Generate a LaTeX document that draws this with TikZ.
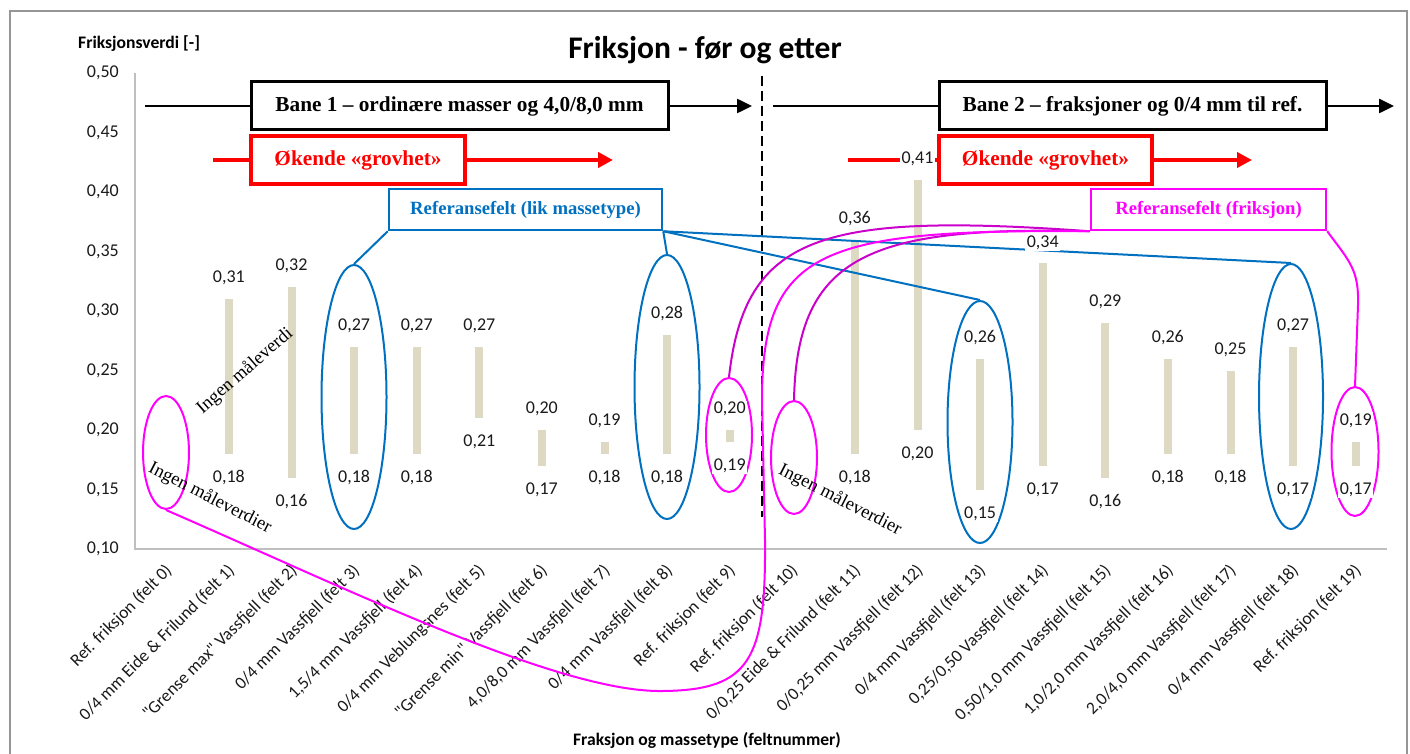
\documentclass[tikz,border=0pt]{standalone}
\usepackage{fontspec}
\setmainfont{Liberation Serif}
\newfontfamily\calibri{Carlito}
\usetikzlibrary{arrows.meta,shapes.geometric}
\definecolor{xlblue}{HTML}{0070C0}
\definecolor{xlmag}{HTML}{FF00FF}
\definecolor{xlmagd}{HTML}{CC00CC}
\definecolor{xlred}{HTML}{FF0000}
\definecolor{barcol}{HTML}{DDD9C3}
\definecolor{framegray}{HTML}{969696}
\definecolor{axisgray}{HTML}{BFBFBF}
\definecolor{lbltext}{HTML}{1A1A1A}
\begin{document}
\begin{tikzpicture}[x=1pt,y=-1pt,
  lbl/.style={font=\calibri\fontsize{18}{21}\selectfont, text=lbltext, inner sep=1.5pt, fill=white},
  xlbl/.style={font=\calibri\fontsize{17.5}{20}\selectfont, text=lbltext, inner sep=0pt, anchor=east, rotate=45},
  tick/.style={font=\calibri\fontsize{18}{21}\selectfont, text=lbltext, anchor=east, inner sep=0pt},
  blackbox/.style={draw=black, line width=3pt, minimum height=48pt, inner sep=0pt, font=\bfseries\fontsize{21.3}{25}\selectfont},
  redbox/.style={draw=xlred, line width=4.5pt, text=xlred, minimum height=48pt, inner sep=0pt, font=\bfseries\fontsize{21.3}{25}\selectfont},
  refbox/.style={line width=2.5pt, minimum height=41pt, inner sep=0pt, font=\bfseries\fontsize{18.7}{22}\selectfont},
  ringb/.style={ellipse, draw=xlblue, line width=2pt, inner sep=0pt},
  ringm/.style={ellipse, draw=xlmag, line width=2pt, inner sep=0pt},
  blackarrow/.style={line width=2.5pt},
  redarrow/.style={xlred, line width=4.5pt},
  bluelink/.style={xlblue, line width=2pt},
  maglink/.style={xlmag, line width=2pt},
  maglinkd/.style={xlmagd, line width=2pt},
  note/.style={font=\fontsize{18.5}{21}\selectfont, inner sep=0pt},
]
\useasboundingbox (0,0) rectangle (1410,754);
\fill[white] (0,0) rectangle (1410,754);
% outer frame
\draw[framegray, line width=1.5pt] (10,754) -- (10,11) -- (1407,11) -- (1407,754);
% axes
\coordinate (ax0) at (135,549);
\coordinate (axtop) at (135,73);
\coordinate (axend) at (1387,549);
\draw[axisgray, line width=1.3pt] (axtop) -- (ax0) -- (axend);
% y ticks
\foreach \v in {10,15,...,50} {
  \node[tick] (ytick\v) at (119,{549-(\v-10)*11.9}) {0,\v};
}
% titles
\node[font=\calibri\bfseries\fontsize{31.5}{36}\selectfont] (title) at (705,50) {Friksjon - før og etter};
\node[anchor=west, font=\calibri\bfseries\fontsize{17.6}{20}\selectfont, inner sep=0pt] (ytitle) at (78,44) {Friksjonsverdi [-]};
\node[font=\calibri\bfseries\fontsize{17.6}{20}\selectfont] (xtitle) at (707,740) {Fraksjon og massetype (feltnummer)};
% bars
\foreach \i/\lo/\hi in {1/18/31,2/16/32,3/18/27,4/18/27,5/21/27,6/17/20,7/18/19,8/18/28,9/19/20,11/18/36,12/20/41,13/15/26,14/17/34,15/16/29,16/18/26,17/18/25,18/17/27,19/17/19} {
  \pgfmathsetmacro\cx{166.3+62.6*\i}
  \pgfmathsetmacro\ylo{549-(\lo-10)*11.9}
  \pgfmathsetmacro\yhi{549-(\hi-10)*11.9}
  \fill[barcol] (\cx-4,\ylo) rectangle (\cx+4,\yhi);
}
% x labels
\node[xlbl] (x0) at (169.3,568) {Ref. friksjon (felt 0)};
\node[xlbl] (x1) at (231.9,568) {0/4 mm Eide \& Frilund (felt 1)};
\node[xlbl] (x2) at (294.5,568) {"Grense max" Vassfjell (felt 2)};
\node[xlbl] (x3) at (357.1,568) {0/4 mm Vassfjell (felt 3)};
\node[xlbl] (x4) at (419.7,568) {1,5/4 mm Vassfjell (felt 4)};
\node[xlbl] (x5) at (482.3,568) {0/4 mm Veblungsnes (felt 5)};
\node[xlbl] (x6) at (544.9,568) {"Grense min" Vassfjell (felt 6)};
\node[xlbl] (x7) at (607.5,568) {4,0/8,0 mm Vassfjell (felt 7)};
\node[xlbl] (x8) at (670.1,568) {0/4 mm Vassfjell (felt 8)};
\node[xlbl] (x9) at (732.7,568) {Ref. friksjon (felt 9)};
\node[xlbl] (x10) at (795.3,568) {Ref. friksjon (felt 10)};
\node[xlbl] (x11) at (857.9,568) {0/0,25 Eide \& Frilund (felt 11)};
\node[xlbl] (x12) at (920.5,568) {0/0,25 mm Vassfjell (felt 12)};
\node[xlbl] (x13) at (983.1,568) {0/4 mm Vassfjell (felt 13)};
\node[xlbl] (x14) at (1045.7,568) {0,25/0,50 Vassfjell (felt 14)};
\node[xlbl] (x15) at (1108.3,568) {0,50/1,0 mm Vassfjell (felt 15)};
\node[xlbl] (x16) at (1170.9,568) {1,0/2,0 mm Vassfjell (felt 16)};
\node[xlbl] (x17) at (1233.5,568) {2,0/4,0 mm Vassfjell (felt 17)};
\node[xlbl] (x18) at (1296.1,568) {0/4 mm Vassfjell (felt 18)};
\node[xlbl] (x19) at (1358.7,568) {Ref. friksjon (felt 19)};
% dashed divider
\coordinate (dtop) at (762,76);
\coordinate (dbot) at (762,517);
\draw[line width=2.5pt, dash pattern=on 10pt off 5pt] (dtop) -- (dbot);
% boxes
\node[blackbox, minimum width=417pt] (b1) at (459.5,106) {Bane 1 – ordinære masser og 4,0/8,0 mm};
\node[blackbox, minimum width=387pt] (b2) at (1132.5,106) {Bane 2 – fraksjoner og 0/4 mm til ref.};
\node[redbox, minimum width=214pt] (r1) at (358,160) {Økende «grovhet»};
\node[redbox, minimum width=213pt] (r2) at (1045.5,160) {Økende «grovhet»};
\node[refbox, draw=xlblue, text=xlblue, minimum width=273pt] (bref) at (525.5,209.5) {Referansefelt (lik massetype)};
\node[refbox, draw=xlmag, text=xlmag, minimum width=235pt] (mref) at (1208.5,209.5) {Referansefelt (friksjon)};
% ellipses
\node[ringb, minimum width=65pt, minimum height=264pt] (e3) at (354,397) {};
\node[ringb, minimum width=65pt, minimum height=264pt] (e8) at (667,387) {};
\node[ringb, minimum width=65pt, minimum height=242pt] (e13) at (980,422) {};
\node[ringb, minimum width=64pt, minimum height=265pt] (e18) at (1291,396.5) {};
\node[ringm, minimum width=46pt, minimum height=113pt] (e0) at (166,452.5) {};
\node[ringm, minimum width=46pt, minimum height=114pt] (e9) at (729,435) {};
\node[ringm, minimum width=46pt, minimum height=113pt] (e10) at (794,457.5) {};
\node[ringm, minimum width=47pt, minimum height=129pt] (e19) at (1355,451.5) {};
% black arrows
\coordinate (bs1) at (145,106);
\coordinate (bt1) at (752,106);
\coordinate (bs2) at (773,106);
\coordinate (bt2) at (1394,106);
\draw[blackarrow] (bs1) -- (b1.west);
\draw[blackarrow, -{Triangle[length=15pt,width=14pt]}] (b1.east) -- (bt1);
\draw[blackarrow] (bs2) -- (b2.west);
\draw[blackarrow, -{Triangle[length=15pt,width=14pt]}] (b2.east) -- (bt2);
% red arrows
\coordinate (rs1) at (213,160);
\coordinate (rt1) at (613,160);
\coordinate (rs2) at (848,160);
\coordinate (rt2) at (1252,160);
\draw[redarrow] (rs1) -- (r1.west);
\draw[redarrow, -{Triangle[length=15pt,width=15pt]}] (r1.east) -- (rt1);
\draw[redarrow] (rs2) -- (r2.west);
\draw[redarrow, -{Triangle[length=15pt,width=15pt]}] (r2.east) -- (rt2);
% blue links
\draw[bluelink] (bref.south west) -- (e3.north);
\draw[bluelink] (bref.south east) -- (e8.north);
\draw[bluelink] (bref.south east) -- (e13.north);
\draw[bluelink] (bref.south east) -- (e18.north);
% data labels
\foreach \i/\lo/\hi in {1/18/31,2/16/32,3/18/27,4/18/27,5/21/27,6/17/20,7/18/19,8/18/28,9/19/20,11/18/36,12/20/41,13/15/26,14/17/34,15/16/29,16/18/26,17/18/25,18/17/27,19/17/19} {
  \pgfmathsetmacro\cx{166.3+62.6*\i}
  \pgfmathsetmacro\ylo{549-(\lo-10)*11.9}
  \pgfmathsetmacro\yhi{549-(\hi-10)*11.9}
  \node[lbl] (top\i) at (\cx,\yhi-21) {0,\hi};
  \node[lbl] (bot\i) at (\cx,\ylo+24) {0,\lo};
}
% notes
\node[note, rotate=41] (im1) at (245,371) {Ingen måleverdi};
\node[note, rotate=-27] (im2) at (210,498) {Ingen måleverdier};
\node[note, rotate=-27] (im3) at (840,500) {Ingen måleverdier};
% magenta links
\draw[maglinkd] (mref.south west) .. controls (820,212) and (745,235) .. (e9.north);
\draw[maglinkd] (mref.south west) .. controls (870,226) and (797,255) .. (e10.north);
\draw[maglink] (mref.south west) .. controls (820,229) and (762,250) .. (762,400) -- (765,540) .. controls (766,660) and (750,690) .. (663,691) .. controls (560,693) and (350,590) .. (e0.south);
\draw[maglink] (mref.south east) .. controls (1350,262) and (1359,270) .. (1358,305) -- (e19.north);
\end{tikzpicture}
\end{document}
